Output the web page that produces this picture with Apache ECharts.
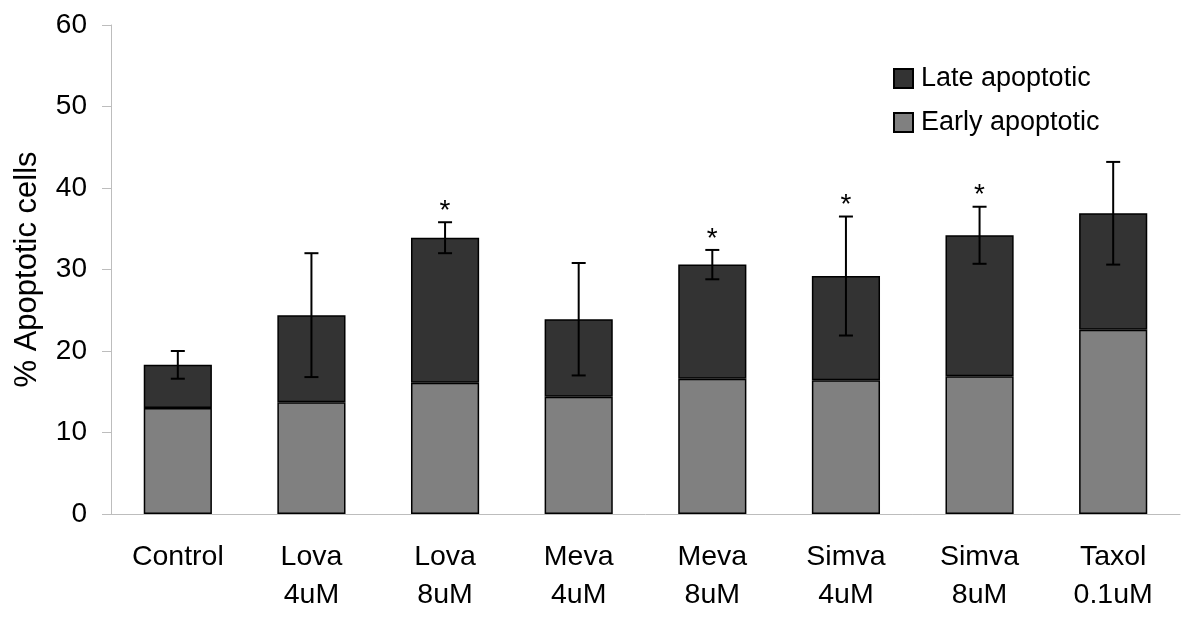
<!DOCTYPE html>
<html>
<head>
<meta charset="utf-8">
<script src="https://cdn.jsdelivr.net/npm/echarts@6/dist/echarts.min.js"></script>
<style>html,body{margin:0;padding:0;background:#fff}#c{width:1200px;height:628px}</style>
</head>
<body>
<div id="c"></div>
<script>
const categories = ['Control', 'Lova\n4uM', 'Lova\n8uM', 'Meva\n4uM', 'Meva\n8uM', 'Simva\n4uM', 'Simva\n8uM', 'Taxol\n0.1uM'];
const earlyApoptotic = [13.0, 13.7, 16.1, 14.4, 16.6, 16.4, 16.9, 22.6];
const lateApoptotic = [5.3, 10.7, 17.8, 9.5, 14.0, 12.8, 17.3, 14.3];
const errorValues = [1.7, 7.6, 1.9, 6.9, 1.8, 7.3, 3.5, 6.3];
const significant = [false, false, true, false, true, true, true, false];
const yTicks = [0, 10, 20, 30, 40, 50, 60];

const FONT = 'Liberation Sans, Arial, sans-serif';
const errData = categories.map((c, i) => {
  const t = earlyApoptotic[i] + lateApoptotic[i];
  return [i, t - errorValues[i], t + errorValues[i], significant[i] ? 1 : 0];
});

const chart = echarts.init(document.getElementById('c'), null, {renderer: 'canvas'});
chart.setOption({
  animation: false,
  backgroundColor: '#fff',
  grid: {left: 111, right: 20, top: 25, bottom: 114, containLabel: false},
  legend: {
    data: ['Late apoptotic', 'Early apoptotic'],
    orient: 'vertical',
    left: 888, top: 60,
    itemWidth: 19, itemHeight: 19, itemGap: 17,
    icon: 'rect',
    textStyle: {fontFamily: FONT, fontSize: 27, color: '#000', padding: [0, 0, 0, 3]}
  },
  xAxis: {
    type: 'category',
    data: categories,
    axisLine: {lineStyle: {color: '#bdbdbd', width: 1}},
    axisTick: {show: false},
    axisLabel: {fontFamily: FONT, fontSize: 28.5, color: '#000', margin: 24, lineHeight: 38, interval: 0, verticalAlign: 'top'}
  },
  yAxis: {
    type: 'value',
    min: 0, max: 60, interval: 10,
    name: '% Apoptotic cells',
    nameLocation: 'middle',
    nameGap: 68,
    nameTextStyle: {fontFamily: FONT, fontSize: 31, color: '#000'},
    axisLine: {show: true, lineStyle: {color: '#bdbdbd', width: 1}},
    axisTick: {show: true, length: 9, lineStyle: {color: '#bdbdbd'}},
    splitLine: {show: false},
    axisLabel: {fontFamily: FONT, fontSize: 28, color: '#000', margin: 24,
      formatter: v => yTicks.includes(v) ? String(v) : ''}
  },
  series: [
    {
      name: 'Early apoptotic', type: 'bar', stack: 'total', data: earlyApoptotic,
      barWidth: '51%',
      itemStyle: {color: '#808080', borderColor: '#000', borderWidth: 1.5}
    },
    {
      name: 'Late apoptotic', type: 'bar', stack: 'total', data: lateApoptotic,
      barWidth: '51%',
      itemStyle: {color: '#333333', borderColor: '#000', borderWidth: 1.5}
    },
    {
      name: 'err', type: 'custom', data: errData, z: 10,
      encode: {x: 0, y: [1, 2]},
      renderItem: (params, api) => {
        const x = api.value(0);
        const lo = api.coord([x, api.value(1)]);
        const hi = api.coord([x, api.value(2)]);
        const hw = 7;
        const st = {stroke: '#000', lineWidth: 2};
        const children = [
          {type: 'line', shape: {x1: lo[0], y1: lo[1], x2: hi[0], y2: hi[1]}, style: st},
          {type: 'line', shape: {x1: lo[0] - hw, y1: lo[1], x2: lo[0] + hw, y2: lo[1]}, style: st},
          {type: 'line', shape: {x1: hi[0] - hw, y1: hi[1], x2: hi[0] + hw, y2: hi[1]}, style: st}
        ];
        if (api.value(3) === 1) {
          children.push({type: 'text', x: hi[0], y: hi[1] + 3,
            style: {text: '*', fontFamily: FONT, fontSize: 28, fill: '#000', align: 'center', verticalAlign: 'bottom'}});
        }
        return {type: 'group', children};
      }
    }
  ]
});
</script>
</body>
</html>
